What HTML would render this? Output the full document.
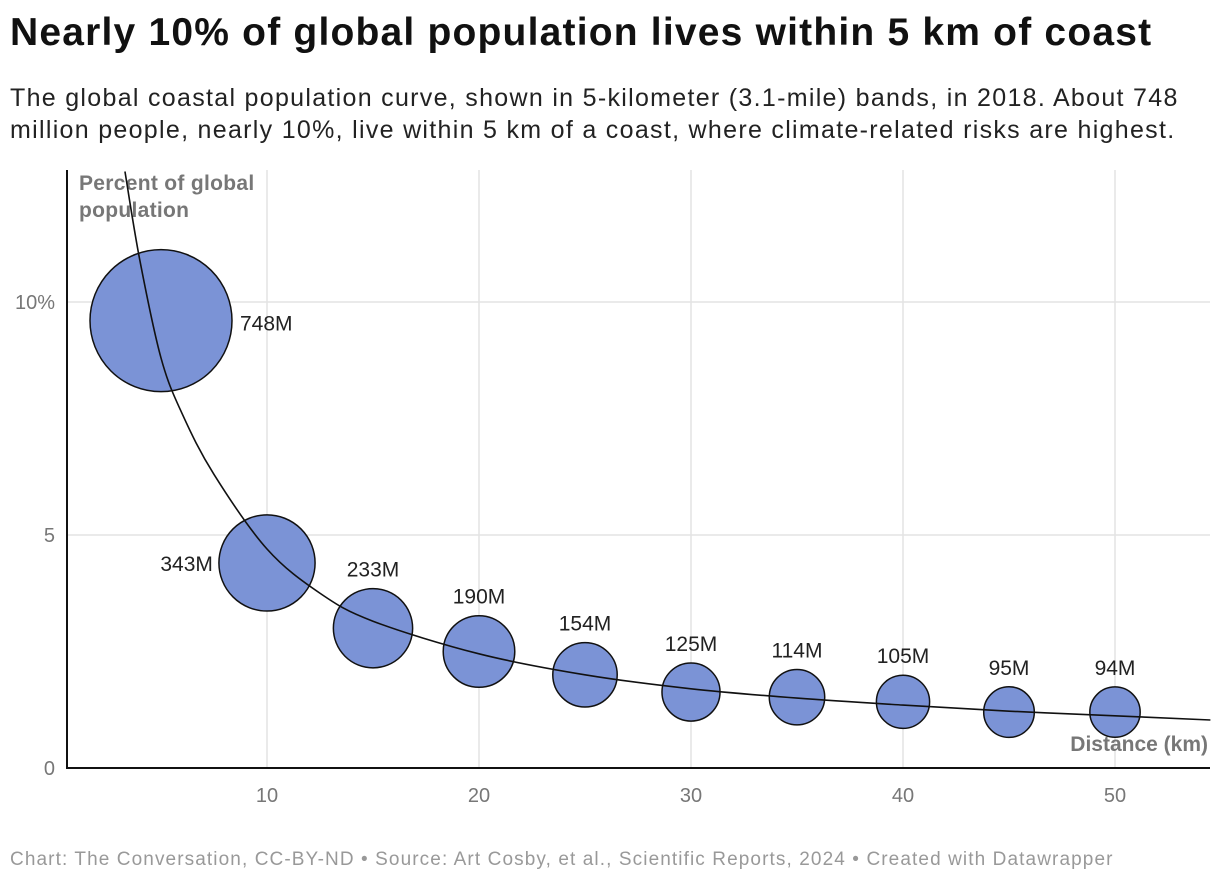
<!DOCTYPE html>
<html><head><meta charset="utf-8"><style>
body{margin:0;background:#fff;width:1220px;height:884px;overflow:hidden;font-family:"Liberation Sans",sans-serif;}
#title{position:absolute;left:10px;top:11px;font-size:39px;font-weight:bold;color:#111;letter-spacing:1.2px;white-space:nowrap}
#sub{position:absolute;left:10px;top:82px;font-size:25px;line-height:32px;color:#222;width:1205px;letter-spacing:1.3px}
#foot{position:absolute;left:10px;top:849px;font-size:19px;color:#999;letter-spacing:1.1px;white-space:nowrap}
svg{position:absolute;left:0;top:0}
</style></head><body>
<div id="title">Nearly 10% of global population lives within 5 km of coast</div>
<div id="sub">The global coastal population curve, shown in 5-kilometer (3.1-mile) bands, in 2018. About 748 million people, nearly 10%, live within 5 km of a coast, where climate-related risks are highest.</div>
<div id="foot">Chart: The Conversation, CC-BY-ND • Source: Art Cosby, et al., Scientific Reports, 2024 • Created with Datawrapper</div>
<svg id="chart" width="1220" height="884"></svg>
<script>
const distances=[5,10,15,20,25,30,35,40,45,50];
const percents=[9.6,4.4,3.0,2.5,2.0,1.63,1.52,1.42,1.2,1.2];
const populations=[748,343,233,190,154,125,114,105,95,94];
const popLabels=["748M","343M","233M","190M","154M","125M","114M","105M","95M","94M"];
const curveX=[3.3,4,5,6,7.5,10,12.5,15,20,25,30,35,40,45,50,54.5];
const curveY=[12.8,10.9,8.8,7.6,6.3,4.7,3.75,3.15,2.45,2.0,1.7,1.5,1.35,1.22,1.12,1.03];
const xTicks=[10,20,30,40,50];
const yTicks=[0,5,10];
const yTickLabels=["0","5","10%"];
const NS="http://www.w3.org/2000/svg";
const svg=document.getElementById('chart');
const X=v=>55+v*21.2, Y=v=>768-v*46.6, R=p=>2.596*Math.sqrt(p);
function mk(t,a,p){const e=document.createElementNS(NS,t);for(const k in a)e.setAttribute(k,a[k]);(p||svg).appendChild(e);return e;}
xTicks.forEach(t=>{
 const g=mk('line',{x1:X(t),x2:X(t),y1:170,y2:768,stroke:'#e3e3e3','stroke-width':1.5});
 
 
 const l=mk('text',{x:X(t),y:802,'text-anchor':'middle','font-size':20,fill:'#777'});l.textContent=t;
 
 
});
yTicks.forEach((t,i)=>{
 if(t>0){const g=mk('line',{x1:67,x2:1210,y1:Y(t),y2:Y(t),stroke:'#e3e3e3','stroke-width':1.5});
 
 }
 const l=mk('text',{x:55,y:Y(t)+7,'text-anchor':'end','font-size':20,fill:'#777'});l.textContent=yTickLabels[i];
 
 
});
const ya=mk('line',{x1:67,x2:67,y1:170,y2:768,stroke:'#111','stroke-width':2});


const xa=mk('line',{x1:66,x2:1210,y1:768,y2:768,stroke:'#111','stroke-width':2});


const yt=mk('text',{x:79,y:190,'font-size':21,'font-weight':'bold',fill:'#777','letter-spacing':0.3});
yt.innerHTML='<tspan x="79">Percent of global</tspan><tspan x="79" dy="27">population</tspan>';


const xt=mk('text',{x:1208,y:751,'text-anchor':'end','font-size':21,'font-weight':'bold',fill:'#777'});xt.textContent='Distance (km)';


distances.forEach((d,i)=>{
 const c=mk('circle',{cx:X(d),cy:Y(percents[i]),r:R(populations[i]),fill:'#7b93d6',stroke:'#111','stroke-width':1.5});
 
 
 let lx,ly,anc;
 if(i===0){lx=X(d)+R(populations[i])+8;ly=Y(percents[i])+10;anc='start';}
 else if(i===1){lx=X(d)-R(populations[i])-6;ly=Y(percents[i])+8;anc='end';}
 else {lx=X(d);ly=Y(percents[i])-R(populations[i])-12;anc='middle';}
 const t=mk('text',{x:lx,y:ly,'text-anchor':anc,'font-size':21,fill:'#222'});t.textContent=popLabels[i];
 
 
});
let pts=curveX.map((x,i)=>[X(x),Y(curveY[i])]);
let d='M'+pts[0][0]+','+pts[0][1];
for(let i=0;i<pts.length-1;i++){
 const p0=pts[Math.max(0,i-1)],p1=pts[i],p2=pts[i+1],p3=pts[Math.min(pts.length-1,i+2)];
 d+=` C${p1[0]+(p2[0]-p0[0])/6},${p1[1]+(p2[1]-p0[1])/6} ${p2[0]-(p3[0]-p1[0])/6},${p2[1]-(p3[1]-p1[1])/6} ${p2[0]},${p2[1]}`;
}
const cv=mk('path',{d:d,fill:'none',stroke:'#111','stroke-width':1.6});


</script>
</body></html>
